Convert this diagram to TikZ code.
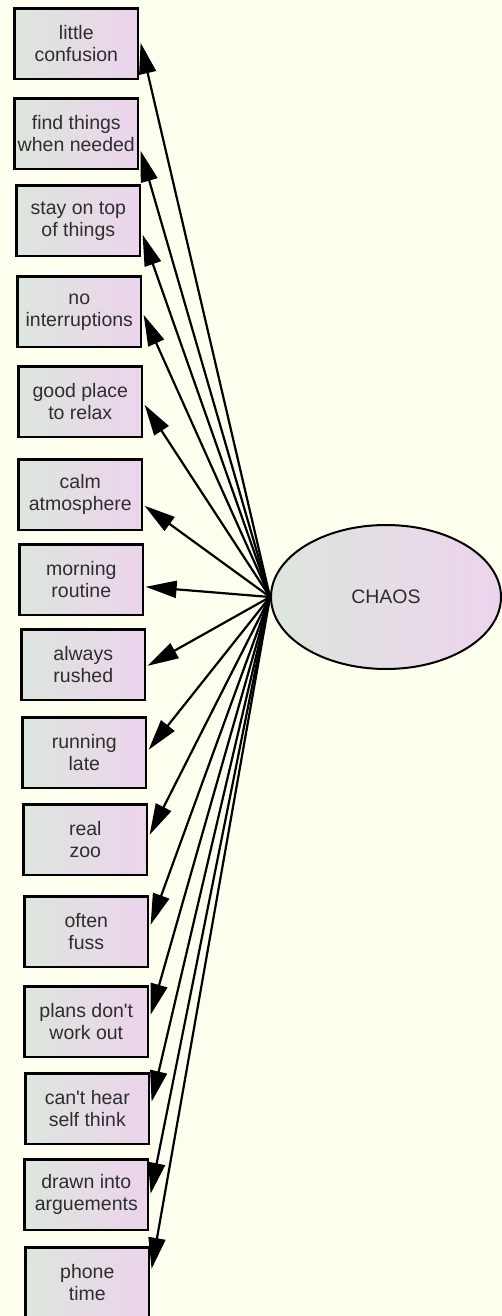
\documentclass[tikz,border=0pt]{standalone}
\usepackage{fontspec}
\setmainfont{Liberation Sans}
\usetikzlibrary{arrows.meta,shapes.geometric}

\begin{document}
\begin{tikzpicture}[x=1pt,y=-1pt,
  itembox/.style={draw=black,line width=2.6pt,left color=boxleft,right color=boxright,
    minimum width=123.4pt,minimum height=70.4pt,inner sep=0pt,anchor=north west,
    align=center,text=txtgray,font=\fontsize{19.5}{22}\selectfont},
  latent/.style={ellipse,draw=black,line width=2pt,left color=boxleft,right color=boxright,
    minimum width=230pt,minimum height=144pt,text=txtgray,font=\fontsize{19.5}{22}\selectfont},
  loading/.style={line width=2.2pt,-{Triangle[length=31pt,width=17pt]}}]
\definecolor{ivory}{HTML}{FFFFF0}
\definecolor{boxleft}{HTML}{DDE5DD}
\definecolor{boxright}{HTML}{ECD4EC}
\definecolor{txtgray}{HTML}{2E2E2E}
\useasboundingbox (0,0) rectangle (502,1316);
\fill[ivory] (0,0) rectangle (502,1316);
\node [latent] (chaos) at (386,597) {CHAOS};
  \foreach \i/\x/\y/\dy/\txt in {1/12/6/1/{little\\confusion},
    2/12/96/-17/{find things\\when needed},
    3/14/183/-14/{stay on top\\of things},
    4/15/274/-3/{no\\interruptions},
    5/16/364/-3/{good place\\to relax},
    6/16/457/-11/{calm\\atmosphere},
    7/17/542/-7/{morning\\routine},
    8/19/627/-1/{always\\rushed},
    9/20/715/3/{running\\late},
    10/21/802/5/{real\\zoo},
    11/22/894/7/{often\\fuss},
    12/22/984/7/{plans don\textquotesingle t\\work out},
    13/23/1071/7/{can\textquotesingle t hear\\self think},
    14/22/1157/1/{drawn into\\arguements},
    15/23/1245/14/{phone\\time}}
  {  \node [itembox] (v\i) at (\x+1.3,\y+1.3) {\txt};
     \draw [loading] (chaos.west) -- ([xshift=1.3pt,yshift=\dy pt]v\i.east);}
\end{tikzpicture}
\end{document}
